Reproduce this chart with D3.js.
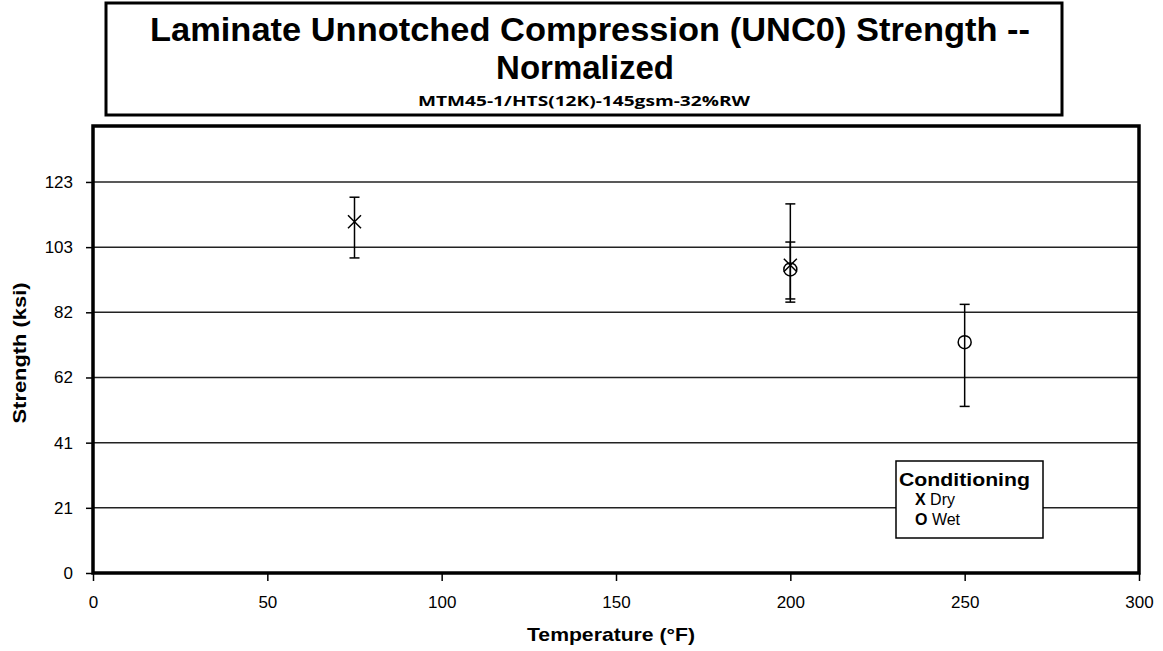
<!DOCTYPE html>
<html>
<head>
<meta charset="utf-8">
<script src="https://cdn.jsdelivr.net/npm/d3@7"></script>
<style>
  body { margin: 0; background: #fff; }
  svg { font-family: "Liberation Sans", Arial, sans-serif; }
</style>
</head>
<body>
<div id="chart"></div>
<script>
// Data
const dryTemps = [75, 200];
const dryMeans = [110.5, 96.8];
const dryHigh = [118.2, 116.1];
const dryLow = [99.1, 85.2];

const wetTemps = [200, 250];
const wetMeans = [95.5, 72.6];
const wetHigh = [104.1, 84.5];
const wetLow = [86.2, 52.4];

const xTicks = [0, 50, 100, 150, 200, 250, 300];
const yTicks = [0, 20.5, 41, 61.5, 82, 102.5, 123];

const width = 1163;
const height = 651;
const margin = { top: 126, right: 24, bottom: 78, left: 93 };

const dry = dryTemps.map((t, i) => ({ t, m: dryMeans[i], hi: dryHigh[i], lo: dryLow[i] }));
const wet = wetTemps.map((t, i) => ({ t, m: wetMeans[i], hi: wetHigh[i], lo: wetLow[i] }));

const x = d3.scaleLinear()
    .domain([0, 300])
    .range([margin.left, width - margin.right]);

const y = d3.scaleLinear()
    .domain([0, 140.6])
    .range([height - margin.bottom, margin.top]);

const svg = d3.select("#chart").append("svg")
    .attr("width", width)
    .attr("height", height);

// Title box
svg.append("rect")
    .attr("x", 106).attr("y", 3)
    .attr("width", 956).attr("height", 112)
    .attr("fill", "none").attr("stroke", "#000").attr("stroke-width", 3);

svg.append("text")
    .attr("x", 590).attr("y", 41)
    .attr("text-anchor", "middle")
    .attr("textLength", 880).attr("lengthAdjust", "spacingAndGlyphs")
    .style("font-size", "33px").style("font-weight", "bold")
    .text("Laminate Unnotched Compression (UNC0) Strength --");
svg.append("text")
    .attr("x", 585).attr("y", 79)
    .attr("text-anchor", "middle")
    .style("font-size", "33px").style("font-weight", "bold")
    .text("Normalized");
svg.append("text")
    .attr("x", 584).attr("y", 106)
    .attr("text-anchor", "middle")
    .attr("textLength", 332).attr("lengthAdjust", "spacingAndGlyphs")
    .style("font-family", "'Open Sans', sans-serif")
    .style("font-size", "15px").style("font-weight", "bold")
    .text("MTM45-1/HTS(12K)-145gsm-32%RW");

// Gridlines
svg.append("g")
    .selectAll("line")
    .data(yTicks.slice(1))
    .join("line")
        .attr("x1", margin.left).attr("x2", width - margin.right)
        .attr("y1", d => y(d)).attr("y2", d => y(d))
        .attr("stroke", "#222").attr("stroke-width", 1.5);

// Axes
const yAxis = svg.append("g")
    .attr("transform", `translate(${margin.left},0)`)
    .call(d3.axisLeft(y).tickValues(yTicks).tickFormat(d => Math.round(d)).tickSize(7).tickPadding(13));
yAxis.select(".domain").remove();
yAxis.selectAll("line").attr("stroke", "#000").attr("stroke-width", 1.5);
yAxis.selectAll("text").style("font-size", "17px").attr("fill", "#000")
    .style("font-family", "'Liberation Sans', Arial, sans-serif");

const xAxis = svg.append("g")
    .attr("transform", `translate(0,${height - margin.bottom})`)
    .call(d3.axisBottom(x).tickValues(xTicks).tickSize(8).tickPadding(15));
xAxis.select(".domain").remove();
xAxis.selectAll("line").attr("stroke", "#000").attr("stroke-width", 1.5);
xAxis.selectAll("text").style("font-size", "17px").attr("fill", "#000")
    .style("font-family", "'Liberation Sans', Arial, sans-serif");

// Plot frame
svg.append("rect")
    .attr("x", margin.left).attr("y", margin.top)
    .attr("width", width - margin.right - margin.left)
    .attr("height", height - margin.bottom - margin.top)
    .attr("fill", "none").attr("stroke", "#000").attr("stroke-width", 3.5);

// Error bars
const drawErr = (data) => {
    const g = svg.append("g").attr("stroke", "#000").attr("stroke-width", 1.5);
    g.selectAll(".v").data(data).join("line")
        .attr("x1", d => x(d.t)).attr("x2", d => x(d.t))
        .attr("y1", d => y(d.hi)).attr("y2", d => y(d.lo));
    g.selectAll(".hi").data(data).join("line")
        .attr("x1", d => x(d.t) - 5).attr("x2", d => x(d.t) + 5)
        .attr("y1", d => y(d.hi)).attr("y2", d => y(d.hi));
    g.selectAll(".lo").data(data).join("line")
        .attr("x1", d => x(d.t) - 5).attr("x2", d => x(d.t) + 5)
        .attr("y1", d => y(d.lo)).attr("y2", d => y(d.lo));
};
drawErr(dry);
drawErr(wet);

// Dry markers (x)
svg.append("g")
    .selectAll("path")
    .data(dry)
    .join("path")
        .attr("transform", d => `translate(${x(d.t)},${y(d.m)})`)
        .attr("d", "M-6.5,-6.5L6.5,6.5M-6.5,6.5L6.5,-6.5")
        .attr("stroke", "#000").attr("stroke-width", 1.5).attr("fill", "none");

// Wet markers (o)
svg.append("g")
    .selectAll("circle")
    .data(wet)
    .join("circle")
        .attr("cx", d => x(d.t)).attr("cy", d => y(d.m))
        .attr("r", 6.5)
        .attr("stroke", "#000").attr("stroke-width", 1.5).attr("fill", "none");

// Axis labels
svg.append("text")
    .attr("x", 611).attr("y", 641)
    .attr("text-anchor", "middle")
    .attr("textLength", 168).attr("lengthAdjust", "spacingAndGlyphs")
    .style("font-size", "19px").style("font-weight", "bold")
    .text("Temperature (°F)");

svg.append("text")
    .attr("transform", "rotate(-90)")
    .attr("x", -353).attr("y", 26)
    .attr("text-anchor", "middle")
    .attr("textLength", 141).attr("lengthAdjust", "spacingAndGlyphs")
    .style("font-size", "19px").style("font-weight", "bold")
    .text("Strength (ksi)");

// Legend
const legend = svg.append("g").attr("transform", "translate(896,461)");
legend.append("rect")
    .attr("width", 147).attr("height", 77)
    .attr("fill", "#fff").attr("stroke", "#000").attr("stroke-width", 1.5);
legend.append("text")
    .attr("x", 3).attr("y", 25)
    .attr("textLength", 131).attr("lengthAdjust", "spacingAndGlyphs")
    .style("font-size", "19px").style("font-weight", "bold")
    .text("Conditioning");
const items = [["X", "Dry"], ["O", "Wet"]];
items.forEach(([sym, lab], i) => {
    const t = legend.append("text")
        .attr("x", 19).attr("y", 44 + i * 20)
        .style("font-size", "16px");
    t.append("tspan").style("font-weight", "bold").text(sym);
    t.append("tspan").text(" " + lab);
});
</script>
</body>
</html>
